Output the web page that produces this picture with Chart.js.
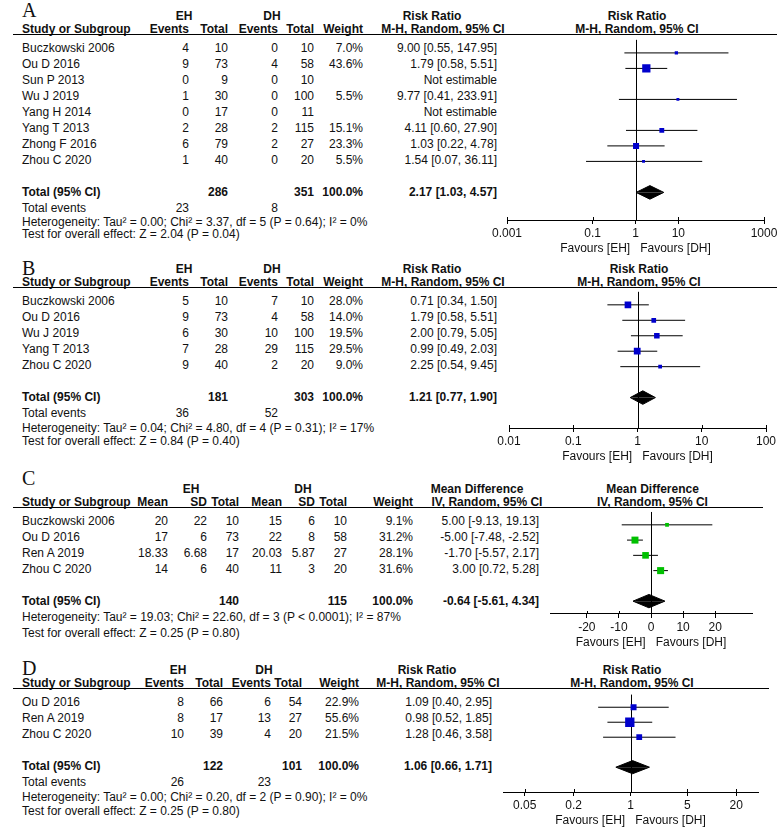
<!DOCTYPE html>
<html>
<head>
<meta charset="utf-8">
<script src="https://cdn.jsdelivr.net/npm/chart.js@4.4.1/dist/chart.umd.min.js"></script>
<style>
  body { margin: 0; background: #fff; }
  #page { position: relative; width: 777px; height: 827px; overflow: hidden;
          font-family: "Liberation Sans", Arial, sans-serif; font-size: 12px; color: #111; }
  .t { position: absolute; line-height: 14px; white-space: pre; }
  .b { font-weight: bold; }
  .rule { position: absolute; height: 1px; background: #000; }
  .letter { position: absolute; font-family: "Liberation Serif", "Times New Roman", serif;
            font-size: 20px; line-height: 20px; color: #111; }
  canvas { position: absolute; }
</style>
</head>
<body>
<div id="page"></div>
<script>
// ---- A: events, risk ratio ----
const studiesA = ["Buczkowski 2006", "Ou D 2016", "Sun P 2013", "Wu J 2019", "Yang H 2014", "Yang T 2013", "Zhong F 2016", "Zhou C 2020"];
const ehEventsA = [4, 9, 0, 1, 0, 2, 6, 1];
const ehTotalA = [10, 73, 9, 30, 17, 28, 79, 40];
const dhEventsA = [0, 4, 0, 0, 0, 2, 2, 0];
const dhTotalA = [10, 58, 10, 100, 11, 115, 27, 20];
const weightA = [7.0, 43.6, null, 5.5, null, 15.1, 23.3, 5.5];
const rrA = [9.00, 1.79, null, 9.77, null, 4.11, 1.03, 1.54];
const loA = [0.55, 0.58, null, 0.41, null, 0.60, 0.22, 0.07];
const hiA = [147.95, 5.51, null, 233.91, null, 27.90, 4.78, 36.11];
const totalA = [2.17, 1.03, 4.57];
const sumsA = [286, 351];
const eventsA = [23, 8];
const hetA = "Heterogeneity: Tau² = 0.00; Chi² = 3.37, df = 5 (P = 0.64); I² = 0%";
const testA = "Test for overall effect: Z = 2.04 (P = 0.04)";
const ticksA = [0.001, 0.1, 1, 10, 1000];

// ---- B ----
const studiesB = ["Buczkowski 2006", "Ou D 2016", "Wu J 2019", "Yang T 2013", "Zhou C 2020"];
const ehEventsB = [5, 9, 6, 7, 9];
const ehTotalB = [10, 73, 30, 28, 40];
const dhEventsB = [7, 4, 10, 29, 2];
const dhTotalB = [10, 58, 100, 115, 20];
const weightB = [28.0, 14.0, 19.5, 29.5, 9.0];
const rrB = [0.71, 1.79, 2.00, 0.99, 2.25];
const loB = [0.34, 0.58, 0.79, 0.49, 0.54];
const hiB = [1.50, 5.51, 5.05, 2.03, 9.45];
const totalB = [1.21, 0.77, 1.90];
const sumsB = [181, 303];
const eventsB = [36, 52];
const hetB = "Heterogeneity: Tau² = 0.04; Chi² = 4.80, df = 4 (P = 0.31); I² = 17%";
const testB = "Test for overall effect: Z = 0.84 (P = 0.40)";
const ticksB = [0.01, 0.1, 1, 10, 100];

// ---- C: mean difference ----
const studiesC = ["Buczkowski 2006", "Ou D 2016", "Ren A 2019", "Zhou C 2020"];
const ehMeanC = ["20", "17", "18.33", "14"];
const ehSdC = ["22", "6", "6.68", "6"];
const ehTotalC = [10, 73, 17, 40];
const dhMeanC = ["15", "22", "20.03", "11"];
const dhSdC = ["6", "8", "5.87", "3"];
const dhTotalC = [10, 58, 27, 20];
const weightC = [9.1, 31.2, 28.1, 31.6];
const mdC = [5.00, -5.00, -1.70, 3.00];
const loC = [-9.13, -7.48, -5.57, 0.72];
const hiC = [19.13, -2.52, 2.17, 5.28];
const totalC = [-0.64, -5.61, 4.34];
const sumsC = [140, 115];
const hetC = "Heterogeneity: Tau² = 19.03; Chi² = 22.60, df = 3 (P < 0.0001); I² = 87%";
const testC = "Test for overall effect: Z = 0.25 (P = 0.80)";
const ticksC = [-20, -10, 0, 10, 20];

// ---- D ----
const studiesD = ["Ou D 2016", "Ren A 2019", "Zhou C 2020"];
const ehEventsD = [8, 8, 10];
const ehTotalD = [66, 17, 39];
const dhEventsD = [6, 13, 4];
const dhTotalD = [54, 27, 20];
const weightD = [22.9, 55.6, 21.5];
const rrD = [1.09, 0.98, 1.28];
const loD = [0.40, 0.52, 0.46];
const hiD = [2.95, 1.85, 3.58];
const totalD = [1.06, 0.66, 1.71];
const sumsD = [122, 101];
const eventsD = [26, 23];
const hetD = "Heterogeneity: Tau² = 0.00; Chi² = 0.20, df = 2 (P = 0.90); I² = 0%";
const testD = "Test for overall effect: Z = 0.25 (P = 0.80)";
const ticksD = [0.05, 0.2, 1, 5, 20];

const page = document.getElementById("page");
const FONT = "'Liberation Sans', Arial, sans-serif";

// place a text line so that its visual middle sits on y
function txt(x, y, s, align, bold) {
    const d = document.createElement("div");
    d.className = "t" + (bold ? " b" : "");
    d.textContent = s;
    d.style.top = (y - 7) + "px";
    if (align === "right") {
        d.style.left = (x - 300) + "px"; d.style.width = "300px"; d.style.textAlign = "right";
    } else if (align === "center") {
        d.style.left = (x - 150) + "px"; d.style.width = "300px"; d.style.textAlign = "center";
    } else {
        d.style.left = x + "px";
    }
    page.appendChild(d);
}

function rule(y, x2) {
    const d = document.createElement("div");
    d.className = "rule";
    d.style.top = y + "px"; d.style.left = "13px"; d.style.width = (x2 - 13) + "px";
    page.appendChild(d);
}

function letter(s, y) {
    const d = document.createElement("div");
    d.className = "letter";
    d.textContent = s;
    d.style.left = "22px"; d.style.top = (y - 10) + "px";
    page.appendChild(d);
}

const f2 = v => v.toFixed(2);
const ciText = (e, l, h) => e == null ? "Not estimable" : `${f2(e)} [${f2(l)}, ${f2(h)}]`;
const pct = w => w == null ? "" : w.toFixed(1) + "%";

// vertical line of no effect, plus the part of each tick mark above the axis
const nullLine = {
    id: "nullLine",
    beforeDatasetsDraw(chart, args, opts) {
        const { ctx, chartArea, scales } = chart;
        const x = Math.round(scales.x.getPixelForValue(opts.value)) + 0.5;
        ctx.save();
        ctx.strokeStyle = "#000";
        ctx.lineWidth = 1;
        ctx.beginPath();
        ctx.moveTo(x, chartArea.top);
        ctx.lineTo(x, chartArea.bottom);
        scales.x.ticks.forEach(t => {
            const tx = Math.round(scales.x.getPixelForValue(t.value)) + 0.5;
            ctx.moveTo(tx, chartArea.bottom - 3);
            ctx.lineTo(tx, chartArea.bottom);
        });
        ctx.stroke();
        ctx.restore();
    }
};

function makeChart(p) {
    const cv = document.createElement("canvas");
    const w = p.R - p.L + 60, h = p.B - p.line + 40;
    cv.width = w; cv.height = h;
    cv.style.left = (p.L - 30) + "px"; cv.style.top = p.line + "px";
    cv.style.width = w + "px"; cv.style.height = h + "px";
    page.appendChild(cv);

    const n = p.studies.length;
    const off = 13.5 / 16;
    const shown = p.studies.map((s, i) => i).filter(i => p.est[i] != null);
    const tot = n + 1, dh = 7 / 16;
    const [te, tl, th] = p.total;

    const datasets = [
        {
            data: shown.map(i => ({ x: p.est[i], y: i })),
            pointStyle: "rect",
            pointRadius: shown.map(i => 1.25 * Math.sqrt(p.weight[i]) / Math.SQRT2),
            backgroundColor: p.color, borderWidth: 0
        },
        {
            data: [{ x: tl, y: tot }, { x: te, y: tot - dh }, { x: th, y: tot }],
            showLine: true, fill: { value: tot }, backgroundColor: "#000",
            borderColor: "#000", borderWidth: 1, pointRadius: 0
        },
        {
            data: [{ x: tl, y: tot }, { x: te, y: tot + dh }, { x: th, y: tot }],
            showLine: true, fill: { value: tot }, backgroundColor: "#000",
            borderColor: "#000", borderWidth: 1, pointRadius: 0
        },
        ...shown.map(i => ({
            data: [{ x: p.lo[i], y: i }, { x: p.hi[i], y: i }],
            showLine: true, borderColor: "#000", borderWidth: 1, pointRadius: 0
        }))
    ];

    new Chart(cv, {
        type: "scatter",
        data: { datasets },
        options: {
            responsive: false, animation: false, events: [],
            layout: { padding: { left: 30, right: 30, top: 0, bottom: 0 } },
            plugins: { legend: { display: false }, tooltip: { enabled: false }, nullLine: { value: p.nullVal } },
            scales: {
                x: {
                    type: p.scale, min: p.min, max: p.max,
                    afterBuildTicks: s => { s.ticks = p.ticks.map(v => ({ value: v })); },
                    afterFit: s => { s.height = 40; },
                    ticks: { autoSkip: false, maxRotation: 0, padding: 2, color: "#111",
                             font: { family: FONT, size: 12 }, callback: v => String(v) },
                    grid: { drawOnChartArea: false, drawTicks: true, tickLength: 4, color: "#000", lineWidth: 1 },
                    border: { display: true, color: "#000", width: 1 },
                    title: { display: true, text: "Favours [EH]   Favours [DH]", color: "#111",
                             font: { family: FONT, size: 12 }, padding: { top: 2, bottom: 4 } }
                },
                y: { type: "linear", display: false, reverse: true, min: -off, max: (p.B - p.line) / 16 - off }
            }
        },
        plugins: [nullLine]
    });
}

function drawPanel(p) {
    const rowY = i => p.line + 13.5 + 16 * i;
    const n = p.studies.length;
    const h1 = p.line - 18, h2 = p.line - 5;
    const pc = (p.L + p.R) / 2 + 1.5;

    letter(p.letter, p.letterY);
    txt(p.cols.eh, h1, "EH", "center", true);
    txt(p.cols.dh, h1, "DH", "center", true);
    txt(p.cols.h1, h1, p.measure, "center", true);
    txt(p.cols.h2, h2, p.method, "center", true);
    txt(pc, h1, p.measure, "center", true);
    txt(pc, h2, p.method, "center", true);
    txt(p.cols.study, h2, "Study or Subgroup", "left", true);
    p.heads.forEach((hd, k) => txt(p.cols.c[k], h2, hd, "right", true));
    rule(p.line, p.lineEnd);

    p.studies.forEach((s, i) => {
        txt(p.cols.study, rowY(i), s);
        p.colVals.forEach((col, k) => txt(p.cols.c[k], rowY(i), String(col[i]), "right"));
        txt(p.cols.ci, rowY(i), ciText(p.est[i], p.lo[i], p.hi[i]), "right");
    });

    const yt = rowY(n + 1);
    txt(p.cols.study, yt, "Total (95% CI)", "left", true);
    txt(p.cols.c[p.sumCols[0]], yt, String(p.sums[0]), "right", true);
    txt(p.cols.c[p.sumCols[1]], yt, String(p.sums[1]), "right", true);
    txt(p.cols.c[p.sumCols[2]], yt, "100.0%", "right", true);
    txt(p.cols.ci, yt, ciText(...p.total), "right", true);

    if (p.events) {
        txt(p.cols.study, yt + 16, "Total events");
        txt(p.cols.c[0], yt + 16, String(p.events[0]), "right");
        txt(p.cols.c[2], yt + 16, String(p.events[1]), "right");
    }
    txt(p.cols.study, p.hetY, p.het);
    txt(p.cols.study, p.testY, p.test);

    makeChart(p);
}

const rrHeads = ["Events", "Total", "Events", "Total", "Weight"];
const rrCols = { study: 22, c: [189, 228, 278, 314, 363], eh: 184, dh: 272, ci: 497, h1: 432, h2: 443 };
const rrColsD = { study: 22, c: [184, 223, 271, 302, 359], eh: 178, dh: 264, ci: 492, h1: 427, h2: 438 };
const mdCols = { study: 22, c: [168, 207, 239, 282, 315, 347, 413], eh: 191, dh: 303, ci: 539, h1: 477, h2: 487 };

drawPanel({
    letter: "A", letterY: 10, line: 34, lineEnd: 777, cols: rrCols, heads: rrHeads,
    measure: "Risk Ratio", method: "M-H, Random, 95% CI",
    studies: studiesA, colVals: [ehEventsA, ehTotalA, dhEventsA, dhTotalA, weightA.map(pct)],
    est: rrA, lo: loA, hi: hiA, weight: weightA, total: totalA,
    sums: sumsA, sumCols: [1, 3, 4], events: eventsA, het: hetA, test: testA, hetY: 221.5, testY: 234,
    L: 507, R: 764, B: 220, scale: "logarithmic", min: 0.001, max: 1000, ticks: ticksA, nullVal: 1, color: "#0000cc"
});

drawPanel({
    letter: "B", letterY: 268, line: 287, lineEnd: 777, cols: rrCols, heads: rrHeads,
    measure: "Risk Ratio", method: "M-H, Random, 95% CI",
    studies: studiesB, colVals: [ehEventsB, ehTotalB, dhEventsB, dhTotalB, weightB.map(pct)],
    est: rrB, lo: loB, hi: hiB, weight: weightB, total: totalB,
    sums: sumsB, sumCols: [1, 3, 4], events: eventsB, het: hetB, test: testB, hetY: 428, testY: 441,
    L: 509, R: 766, B: 428, scale: "logarithmic", min: 0.01, max: 100, ticks: ticksB, nullVal: 1, color: "#0000cc"
});

drawPanel({
    letter: "C", letterY: 478, line: 507, lineEnd: 763, cols: mdCols,
    heads: ["Mean", "SD", "Total", "Mean", "SD", "Total", "Weight"],
    measure: "Mean Difference", method: "IV, Random, 95% CI",
    studies: studiesC, colVals: [ehMeanC, ehSdC, ehTotalC, dhMeanC, dhSdC, dhTotalC, weightC.map(pct)],
    est: mdC, lo: loC, hi: hiC, weight: weightC, total: totalC,
    sums: sumsC, sumCols: [2, 5, 6], events: null, het: hetC, test: testC, hetY: 617, testY: 633,
    L: 550, R: 752, B: 614, scale: "linear", min: -31.5, max: 31.5, ticks: ticksC, nullVal: 0, color: "#00c000"
});

drawPanel({
    letter: "D", letterY: 668, line: 688, lineEnd: 769, cols: rrColsD, heads: rrHeads,
    measure: "Risk Ratio", method: "M-H, Random, 95% CI",
    studies: studiesD, colVals: [ehEventsD, ehTotalD, dhEventsD, dhTotalD, weightD.map(pct)],
    est: rrD, lo: loD, hi: hiD, weight: weightD, total: totalD,
    sums: sumsD, sumCols: [1, 3, 4], events: eventsD, het: hetD, test: testD, hetY: 796.5, testY: 811,
    L: 503, R: 758, B: 792, scale: "logarithmic", min: 0.027, max: 37, ticks: ticksD, nullVal: 1, color: "#0000cc"
});
</script>
</body>
</html>
